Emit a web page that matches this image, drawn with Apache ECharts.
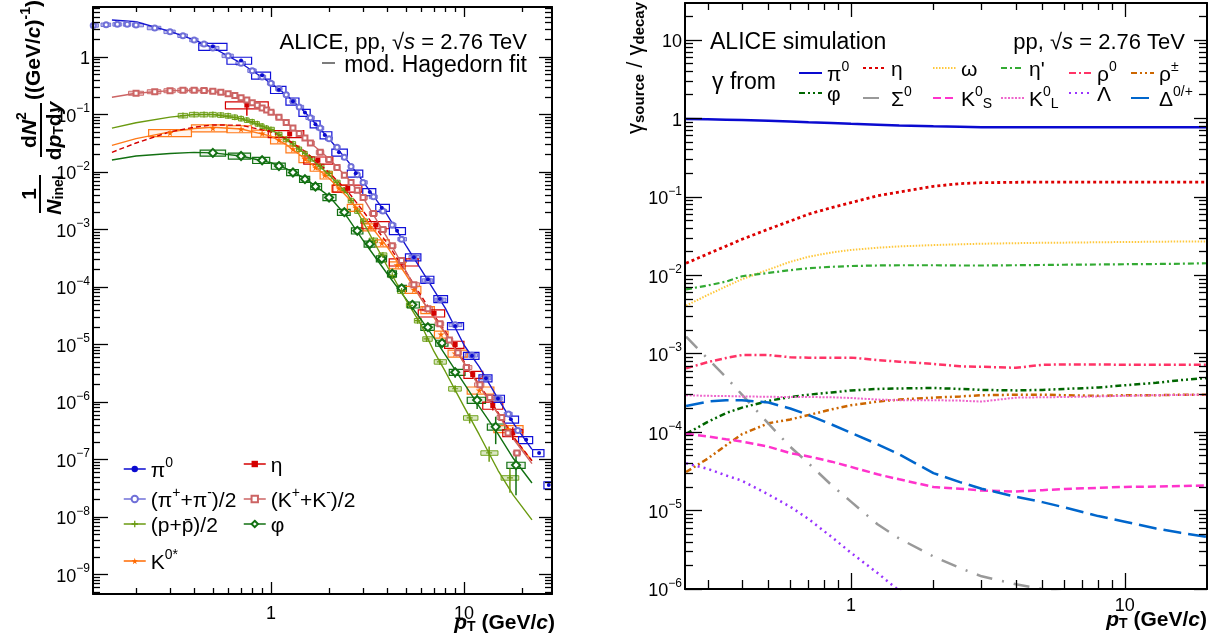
<!DOCTYPE html>
<html>
<head>
<meta charset="utf-8">
<script src="https://cdn.jsdelivr.net/npm/echarts@6/dist/echarts.min.js"></script>
<style>
html, body { margin: 0; background: #fff; }
#chart { width: 1222px; height: 639px; }
</style>
</head>
<body>
<div id="chart"></div>
<script>
// ---------- left panel: spectra ----------
const PT_FIT  = [0.15, 0.2, 0.3, 0.4, 0.5, 0.7, 1, 1.2, 1.5, 2, 2.5, 3, 4, 5, 6, 7, 8, 10, 12, 15, 18, 22.5];
const FIT_PI  = [4.4, 4.1, 2.8, 1.98, 1.45, 0.78, 0.35, 0.22, 0.11, 0.038, 0.0155, 0.0068, 0.0018, 5.3e-4, 2.0e-4, 8.7e-5, 4.3e-5, 9.8e-6, 4.1e-6, 1.15e-6, 4.3e-7, 1.5e-7];
const FIT_K   = [0.2, 0.235, 0.26, 0.265, 0.255, 0.19, 0.11, 0.073, 0.039, 0.017, 0.0078, 0.0036, 7.2e-4, 1.9e-4, 6.2e-5, 3.0e-5, 1.6e-5, 4.8e-6, 1.9e-6, 6.2e-7, 2.3e-7, 8.5e-8];
const FIT_P   = [0.058, 0.072, 0.09, 0.1, 0.1, 0.085, 0.055, 0.037, 0.021, 0.009, 0.0041, 0.00135, 2.3e-4, 6.0e-5, 2.2e-5, 7.5e-6, 3.4e-6, 8.3e-7, 2.7e-7, 6.5e-8, 2.4e-8, 8.9e-9];
const FIT_ETA = [0.022, 0.032, 0.05, 0.06, 0.066, 0.065, 0.05, 0.038, 0.023, 0.0098, 0.0046, 0.0021, 5.8e-4, 1.85e-4, 7.0e-5, 3.2e-5, 1.7e-5, 5.1e-6, 2.0e-6, 6.6e-7, 2.5e-7, 9.5e-8];
const FIT_KST = [0.029, 0.038, 0.05, 0.057, 0.06, 0.056, 0.042, 0.03, 0.017, 0.0078, 0.0036, 0.0017, 5.0e-4, 1.65e-4, 6.2e-5, 2.9e-5, 1.55e-5, 4.8e-6, 1.9e-6, 6.3e-7, 2.4e-7, 9.5e-8];
const FIT_PHI = [0.0162, 0.019, 0.021, 0.022, 0.0215, 0.019, 0.0145, 0.0115, 0.0078, 0.0038, 0.0016, 6.5e-4, 1.7e-4, 6.2e-5, 2.7e-5, 1.3e-5, 6.6e-6, 2.1e-6, 8.3e-7, 2.8e-7, 1.05e-7, 3.9e-8];

const PI0_PT = [0.5, 0.7, 0.9, 1.1, 1.3, 1.5, 1.7, 1.9, 2.25, 2.75, 3.25, 3.75, 4.5, 5.5, 6.5, 7.5, 9, 11, 13, 15, 17.5, 21, 24.5, 27.5];
const PI0_Y  = [1.52, 0.87, 0.48, 0.27, 0.17, 0.108, 0.068, 0.044, 0.022, 0.0095, 0.0045, 0.0024, 9.5e-4, 3.3e-4, 1.35e-4, 6.2e-5, 2.1e-5, 6.4e-6, 2.6e-6, 1.15e-6, 5.0e-7, 2.2e-7, 1.3e-7, 3.6e-8];

const PICH_PT = [0.12, 0.14, 0.16, 0.18, 0.2, 0.25, 0.3, 0.35, 0.4, 0.45, 0.5, 0.6, 0.7, 0.8, 0.9, 1.0, 1.1, 1.2, 1.3, 1.4, 1.6, 1.8, 2.0, 2.2, 2.4, 2.6, 2.8, 3.0, 3.4, 3.8, 4.25, 4.75, 5.5, 6.5, 7.5, 9, 11, 13, 15, 17, 19];
const PICH_Y  = [3.55, 3.65, 3.7, 3.7, 3.6, 3.2, 2.75, 2.35, 1.98, 1.68, 1.43, 1.05, 0.78, 0.58, 0.45, 0.35, 0.28, 0.22, 0.17, 0.135, 0.088, 0.058, 0.038, 0.027, 0.018, 0.0125, 0.009, 0.0066, 0.0037, 0.0021, 0.0012, 6.8e-4, 3.3e-4, 1.3e-4, 6.0e-5, 2.2e-5, 6.5e-6, 2.6e-6, 1.15e-6, 6.2e-7, 3.2e-7];

const PR_PT  = [0.35, 0.4, 0.45, 0.5, 0.55, 0.6, 0.65, 0.7, 0.75, 0.8, 0.85, 0.9, 0.95, 1.0, 1.1, 1.2, 1.3, 1.4, 1.5, 1.6, 1.8, 2.0, 2.2, 2.4, 2.6, 2.8, 3.0, 3.4, 3.8, 4.25, 4.75, 5.25, 5.75, 6.4, 7.5, 9, 10.7, 13.5, 17.3];
const PR_Y   = [0.096, 0.1, 0.1, 0.1, 0.098, 0.095, 0.09, 0.085, 0.08, 0.075, 0.069, 0.063, 0.058, 0.055, 0.045, 0.037, 0.031, 0.025, 0.021, 0.017, 0.0125, 0.0095, 0.0066, 0.0048, 0.0032, 0.0021, 0.0014, 6.5e-4, 3.6e-4, 1.6e-4, 8.5e-5, 4.8e-5, 2.6e-5, 1.25e-5, 5.0e-6, 1.7e-6, 5.3e-7, 1.3e-7, 4.8e-8];
const PR_ERR = [0.01, 0.01, 0.01, 0.01, 0.01, 0.01, 0.01, 0.01, 0.01, 0.01, 0.01, 0.01, 0.01, 0.01, 0.01, 0.01, 0.01, 0.01, 0.01, 0.01, 0.01, 0.01, 0.01, 0.01, 0.01, 0.02, 0.02, 0.02, 0.03, 0.03, 0.04, 0.05, 0.06, 0.08, 0.1, 0.14, 0.2, 0.3, 0.45];

const KCH_PT = [0.2, 0.25, 0.3, 0.35, 0.4, 0.45, 0.5, 0.55, 0.6, 0.65, 0.7, 0.75, 0.8, 0.85, 0.9, 0.95, 1.0, 1.1, 1.2, 1.3, 1.4, 1.5, 1.6, 1.8, 2.0, 2.2, 2.4, 2.6, 2.8, 3.0, 3.4, 3.8, 4.25, 4.75, 5.5, 6.5, 7.5, 8.4, 9.3, 10.3, 12.1, 13.6, 15.7, 16.9, 18.8];
const KCH_Y  = [0.235, 0.25, 0.26, 0.265, 0.265, 0.262, 0.255, 0.245, 0.23, 0.215, 0.195, 0.178, 0.16, 0.145, 0.13, 0.12, 0.11, 0.09, 0.073, 0.058, 0.047, 0.039, 0.032, 0.022, 0.0165, 0.012, 0.0088, 0.0066, 0.0048, 0.0036, 0.0019, 0.001, 5.2e-4, 2.9e-4, 1.1e-4, 4.2e-5, 2.3e-5, 1.2e-5, 7.2e-6, 4.0e-6, 2.0e-6, 1.2e-6, 5.4e-7, 2.9e-7, 1.3e-7];

const ETA_PT  = [0.75, 1.25, 1.75, 2.5, 3.5, 4.8, 7, 9, 11.1, 14.1, 17.9];
const ETA_Y   = [0.146, 0.046, 0.016, 0.0052, 0.0012, 2.7e-4, 3.5e-5, 1.0e-5, 3.0e-6, 8.7e-7, 2.9e-7];
const ETA_ERR = [0.35, 0.1, 0.08, 0.06, 0.06, 0.06, 0.08, 0.1, 0.12, 0.18, 0.25];

const PHI_PT  = [0.5, 0.7, 0.9, 1.1, 1.3, 1.5, 1.7, 2.0, 2.4, 2.8, 3.25, 3.75, 4.25, 4.75, 5.4, 6.5, 7.7, 9, 11.7, 14.6, 18.6];
const PHI_Y   = [0.0215, 0.019, 0.016, 0.0127, 0.0098, 0.0075, 0.0056, 0.0036, 0.002, 9.5e-4, 5.6e-4, 3.1e-4, 1.7e-4, 9.5e-5, 4.9e-5, 2.0e-5, 1.06e-5, 3.3e-6, 1.08e-6, 3.7e-7, 8.0e-8];
const PHI_ERR = [0.03, 0.03, 0.03, 0.03, 0.03, 0.03, 0.04, 0.04, 0.05, 0.05, 0.06, 0.06, 0.07, 0.08, 0.1, 0.12, 0.15, 0.2, 0.3, 0.5, 0.7];

const KST_PT = [0.3, 0.5, 0.7, 0.9, 1.1, 1.3, 1.5, 1.7, 1.9, 2.25, 2.75, 3.25, 3.75, 4.5, 5.5, 6.5, 7.6, 9, 12, 17];
const KST_Y  = [0.048, 0.058, 0.056, 0.047, 0.036, 0.025, 0.017, 0.012, 0.0088, 0.0052, 0.0024, 0.0011, 5.8e-4, 2.4e-4, 9.0e-5, 4.0e-5, 1.5e-5, 7.0e-6, 1.6e-6, 3.4e-7];

// ---------- right panel: gamma_source / gamma_decay ----------
const R_PT     = [0.25, 0.3, 0.35, 0.4, 0.5, 0.6, 0.7, 0.85, 1, 1.25, 1.5, 2, 2.5, 3, 4, 5, 6, 8, 10, 13, 16, 20];
const R_PI0    = [0.98, 0.97, 0.96, 0.95, 0.93, 0.91, 0.89, 0.87, 0.85, 0.83, 0.81, 0.79, 0.78, 0.77, 0.77, 0.77, 0.77, 0.77, 0.77, 0.77, 0.77, 0.77];
const R_ETA    = [0.0142, 0.0187, 0.0235, 0.0287, 0.0387, 0.049, 0.06, 0.0728, 0.0843, 0.103, 0.115, 0.136, 0.147, 0.151, 0.153, 0.154, 0.154, 0.154, 0.154, 0.154, 0.154, 0.154];
const R_OMEGA  = [0.0041, 0.0056, 0.0072, 0.0089, 0.0118, 0.0148, 0.0172, 0.0195, 0.021, 0.0224, 0.0233, 0.0242, 0.0248, 0.0252, 0.0256, 0.0259, 0.026, 0.0263, 0.0265, 0.0267, 0.0269, 0.027];
const R_ETAP   = [0.0066, 0.0074, 0.0083, 0.0097, 0.0107, 0.0116, 0.0123, 0.0128, 0.0131, 0.0133, 0.0134, 0.0134, 0.0133, 0.0133, 0.0134, 0.0135, 0.0136, 0.0137, 0.0138, 0.0139, 0.014, 0.0142];
const R_RHO0   = [6.5e-4, 7.8e-4, 8.8e-4, 9.6e-4, 9.6e-4, 9.0e-4, 8.9e-4, 8.9e-4, 8.9e-4, 8.3e-4, 7.9e-4, 7.4e-4, 6.9e-4, 6.8e-4, 6.6e-4, 7.2e-4, 7.3e-4, 7.3e-4, 7.2e-4, 7.2e-4, 7.2e-4, 7.2e-4];
const R_RHOPM  = [3.1e-5, 4.6e-5, 6.8e-5, 9.4e-5, 1.3e-4, 1.45e-4, 1.65e-4, 1.95e-4, 2.2e-4, 2.45e-4, 2.6e-4, 2.75e-4, 2.85e-4, 2.95e-4, 3.0e-4, 3.0e-4, 2.95e-4, 2.9e-4, 2.95e-4, 2.95e-4, 3.0e-4, 3.0e-4];
const R_PHI    = [9.5e-5, 1.35e-4, 1.75e-4, 2.05e-4, 2.5e-4, 2.8e-4, 3.0e-4, 3.2e-4, 3.4e-4, 3.55e-4, 3.6e-4, 3.65e-4, 3.55e-4, 3.45e-4, 3.4e-4, 3.45e-4, 3.55e-4, 3.7e-4, 3.95e-4, 4.25e-4, 4.6e-4, 4.9e-4];
const R_SIGMA  = [1.65e-3, 8.6e-4, 5.0e-4, 3.0e-4, 1.28e-4, 6.5e-5, 4.0e-5, 2.1e-5, 1.3e-5, 6.7e-6, 4.4e-6, 2.6e-6, 1.85e-6, 1.45e-6, 1.15e-6, 1.0e-6, 0.9e-6, 0.8e-6, 0.7e-6, 0.6e-6, 0.55e-6, 0.5e-6];
const R_K0S    = [9.5e-5, 8.8e-5, 8.1e-5, 7.6e-5, 6.5e-5, 5.4e-5, 4.9e-5, 4.2e-5, 3.6e-5, 2.9e-5, 2.5e-5, 2.0e-5, 1.9e-5, 1.8e-5, 1.75e-5, 1.82e-5, 1.88e-5, 1.95e-5, 2.0e-5, 2.02e-5, 2.05e-5, 2.1e-5];
const R_K0L    = [2.95e-4, 2.9e-4, 2.88e-4, 2.85e-4, 2.82e-4, 2.8e-4, 2.8e-4, 2.78e-4, 2.72e-4, 2.6e-4, 2.55e-4, 2.55e-4, 2.52e-4, 2.45e-4, 2.75e-4, 2.78e-4, 2.8e-4, 2.85e-4, 2.9e-4, 2.95e-4, 2.98e-4, 3.0e-4];
const R_LAMBDA = [4.0e-5, 3.4e-5, 2.8e-5, 2.4e-5, 1.6e-5, 1.12e-5, 7.8e-6, 4.6e-6, 2.9e-6, 1.6e-6, 9.5e-7, 4.5e-7, 2.5e-7, 1.5e-7, 7e-8, 4e-8, 3e-8, 2e-8, 1e-8, 8e-9, 6e-9, 5e-9];
const R_DELTA  = [2.15e-4, 2.45e-4, 2.55e-4, 2.55e-4, 2.38e-4, 2.0e-4, 1.65e-4, 1.25e-4, 9.8e-5, 7.0e-5, 5.2e-5, 3.0e-5, 2.3e-5, 1.9e-5, 1.5e-5, 1.28e-5, 1.1e-5, 8.5e-6, 7.2e-6, 5.9e-6, 5.2e-6, 4.6e-6];

const FONT = 'Liberation Sans';
const L = Math.log10;

function richSet(size, weight) {
    let sup = Math.round(size * 0.66);
    return {
        n:   {fontSize: size, fontFamily: FONT, fontWeight: weight, color: '#000', lineHeight: size + 5, verticalAlign: 'bottom'},
        i:   {fontSize: size, fontFamily: FONT, fontWeight: weight, fontStyle: 'italic', color: '#000', lineHeight: size + 5, verticalAlign: 'bottom'},
        sup: {fontSize: sup, fontFamily: FONT, fontWeight: weight, color: '#000', lineHeight: sup, verticalAlign: 'top'},
        sub: {fontSize: sup, fontFamily: FONT, fontWeight: weight, color: '#000', lineHeight: sup, verticalAlign: 'bottom'}
    };
}
const RICH = richSet(21, 'normal');
const RICH_AX = richSet(18, 'normal');
const RICH_22 = richSet(22, 'normal');
const RICH_23 = richSet(23, 'normal');
const RICH_BOLD = richSet(21, 'bold');

const NAMES = {
    'π0': '{n|π}{sup|0}',
    '(π++π-)/2': '{n|(π}{sup|+}{n|+π}{sup|-}{n|)/2}',
    '(p+p̄)/2': '{n|(p+p̄)/2}',
    'K0*': '{n|K}{sup|0*}',
    'η': '{n|η}',
    '(K++K-)/2': '{n|(K}{sup|+}{n|+K}{sup|-}{n|)/2}',
    'φ': '{n|φ}',
    'r_pi0': '{n|π}{sup|0}',
    'r_eta': '{n|η}',
    'r_omega': '{n|ω}',
    'r_etap': "{n|η'}",
    'r_rho0': '{n|ρ}{sup|0}',
    'r_rhopm': '{n|ρ}{sup|±}',
    'r_phi': '{n|φ}',
    'r_sigma': '{n|Σ}{sup|0}',
    'r_k0s': '{n|K}{sup|0}{sub|S}',
    'r_k0l': '{n|K}{sup|0}{sub|L}',
    'r_lambda': '{n|Λ}',
    'r_delta': '{n|Δ}{sup|0/+}'
};

// axis helpers (log10 space)
function decades(r) {
    let out = [];
    for (let n = Math.ceil(r[0]); n <= Math.floor(r[1]); n++) out.push(n);
    return out;
}
function minors(r) {
    let out = [];
    for (let n = Math.floor(r[0]); n <= Math.ceil(r[1]); n++) {
        for (let k = 2; k <= 9; k++) {
            let v = n + L(k);
            if (v > r[0] && v < r[1]) out.push(v);
        }
    }
    return out;
}
function powLabel(v) {
    let n = Math.round(v);
    if (n === 0) return '{n|1}';
    if (n === 1) return '{n|10}';
    return '{n|10}{sup|' + (n < 0 ? '−' : '') + Math.abs(n) + '}';
}
function axis(grid, pos, r, major, len, label, margin) {
    return {
        type: 'value', gridIndex: grid, position: pos, min: r[0], max: r[1],
        splitLine: {show: false},
        axisLine: {show: major, onZero: false, lineStyle: {color: '#000', width: 2}},
        axisTick: {show: true, inside: true, length: len,
                   customValues: major ? decades(r) : minors(r),
                   lineStyle: {color: '#000', width: 1.3}},
        axisLabel: {show: label, customValues: decades(r), formatter: powLabel,
                    margin: margin, rich: RICH_AX},
        z: 10
    };
}

const LX = [-0.922, 1.456], LY = [-9.339, 0.870];
const RX = [-0.606, 1.300], RY = [-6.0, 1.47];

const xAxes = [
    axis(0, 'bottom', LX, true, 12, true, 6),
    axis(0, 'bottom', LX, false, 6, false, 0),
    axis(0, 'top', LX, true, 10, false, 0),
    axis(0, 'top', LX, false, 5, false, 0),
    axis(1, 'bottom', RX, true, 16, true, 3),
    axis(1, 'bottom', RX, false, 9, false, 0),
    axis(1, 'top', RX, true, 14, false, 0),
    axis(1, 'top', RX, false, 7, false, 0)
];
const yAxes = [
    axis(0, 'left', LY, true, 15, true, 3),
    axis(0, 'left', LY, false, 7, false, 0),
    axis(0, 'right', LY, true, 13, false, 0),
    axis(0, 'right', LY, false, 7, false, 0),
    axis(1, 'left', RY, true, 17, true, 3),
    axis(1, 'left', RY, false, 8, false, 0),
    axis(1, 'right', RY, true, 13, false, 0),
    axis(1, 'right', RY, false, 8, false, 0)
];

function pairs(xs, ys) {
    return xs.map((x, i) => [L(x), L(ys[i])]);
}
function boxRows(xs, ys, sys, frac) {
    let n = xs.length;
    return xs.map((x, i) => {
        let c = L(x);
        let lo = i > 0 ? (L(xs[i - 1]) + c) / 2 : c - (L(xs[1]) - c) / 2;
        let hi = i < n - 1 ? (L(xs[i + 1]) + c) / 2 : c + (c - L(xs[n - 2])) / 2;
        return [c - (c - lo) * frac, c + (hi - c) * frac, L(ys[i] * (1 - sys)), L(ys[i] * (1 + sys))];
    });
}

const series = [];

function addBoxes(xs, ys, sys, frac, style) {
    series.push({
        type: 'custom', xAxisIndex: 0, yAxisIndex: 0, clip: true, silent: true, z: 2,
        data: boxRows(xs, ys, sys, frac),
        encode: {x: [0, 1], y: [2, 3]},
        renderItem: function (params, api) {
            let p1 = api.coord([api.value(0), api.value(3)]);
            let p2 = api.coord([api.value(1), api.value(2)]);
            return {type: 'rect',
                    shape: {x: p1[0], y: p1[1], width: p2[0] - p1[0], height: p2[1] - p1[1]},
                    style: style};
        }
    });
}
function addErrors(xs, ys, errs, color) {
    series.push({
        type: 'custom', xAxisIndex: 0, yAxisIndex: 0, clip: true, silent: true, z: 4,
        data: xs.map((x, i) => [L(x), L(ys[i] * Math.max(1 - errs[i], 0.05)), L(ys[i] * (1 + errs[i]))]),
        encode: {x: 0, y: [1, 2]},
        renderItem: function (params, api) {
            let p1 = api.coord([api.value(0), api.value(1)]);
            let p2 = api.coord([api.value(0), api.value(2)]);
            return {type: 'line', shape: {x1: p1[0], y1: p1[1], x2: p2[0], y2: p2[1]},
                    style: {stroke: color, lineWidth: 1.5}};
        }
    });
}
function addFit(ys, color, dash) {
    series.push({
        type: 'line', xAxisIndex: 0, yAxisIndex: 0, showSymbol: false, silent: true, z: 3,
        data: pairs(PT_FIT, ys),
        lineStyle: {color: color, width: 1.4, type: dash || 'solid'}
    });
}
function addPoints(name, xs, ys, color, symbol, size) {
    series.push({
        name: name, type: 'line', xAxisIndex: 0, yAxisIndex: 0, z: 5,
        data: pairs(xs, ys), showSymbol: true, symbol: symbol, symbolSize: size,
        itemStyle: {color: color}, lineStyle: {color: color, opacity: 0, width: 1.5}
    });
}

const STAR = 'path://M50,0 L61,35 98,35 68,57 79,91 50,70 21,91 32,57 2,35 39,35Z';
const CROSS = 'path://M4,0h2v4h4v2h-4v4h-2v-4h-4v-2h4z';

// boxes
addBoxes(PICH_PT, PICH_Y, 0.07, 0.8, {fill: 'rgba(110,110,215,0.45)', stroke: 'rgba(90,90,210,0.8)', lineWidth: 1});
addBoxes(KCH_PT, KCH_Y, 0.08, 0.8, {fill: 'rgba(205,100,100,0.35)', stroke: 'rgba(200,90,90,0.85)', lineWidth: 1});
addBoxes(PR_PT, PR_Y, 0.09, 0.85, {fill: 'rgba(110,160,20,0.25)', stroke: 'rgba(100,155,10,0.9)', lineWidth: 1});
addBoxes(PHI_PT, PHI_Y, 0.12, 0.9, {fill: 'rgba(20,120,20,0.08)', stroke: '#127012', lineWidth: 1.2});
addBoxes(KST_PT, KST_Y, 0.14, 1.0, {fill: 'rgba(255,120,30,0.08)', stroke: '#ff7a1a', lineWidth: 1.2});
addBoxes(ETA_PT, ETA_Y, 0.14, 1.0, {fill: 'none', stroke: '#d40000', lineWidth: 1.2});
addBoxes(PI0_PT, PI0_Y, 0.14, 1.0, {fill: 'none', stroke: '#1010d8', lineWidth: 1.2});

// fits
addFit(FIT_PHI, '#127012');
addFit(FIT_P, '#6a9a10');
addFit(FIT_KST, '#ff7a1a');
addFit(FIT_ETA, '#d40000', [5, 3]);
addFit(FIT_K, '#cc6464');
addFit(FIT_PI, '#1818d0');

// statistical error bars
addErrors(PR_PT, PR_Y, PR_ERR, '#6a9a10');
addErrors(PHI_PT, PHI_Y, PHI_ERR, '#127012');
addErrors(ETA_PT, ETA_Y, ETA_ERR, '#d40000');

// points
addPoints('φ', PHI_PT, PHI_Y, '#127012', 'emptyDiamond', 8);
addPoints('(p+p̄)/2', PR_PT, PR_Y, '#6a9a10', CROSS, 6);
addPoints('K0*', KST_PT, KST_Y, '#ff6a00', STAR, 7);
addPoints('η', ETA_PT, ETA_Y, '#d40000', 'rect', 5);
addPoints('(K++K-)/2', KCH_PT, KCH_Y, '#cc6464', 'emptyRect', 5);
addPoints('(π++π-)/2', PICH_PT, PICH_Y, '#7070d8', 'emptyCircle', 5);
addPoints('π0', PI0_PT, PI0_Y, '#0a0ad0', 'circle', 4);

// right panel curves
const R_LINES = [
    ['r_pi0', R_PI0, '#0a0ad0', 'solid', 2.5],
    ['r_eta', R_ETA, '#dd0000', [3, 3], 2.8],
    ['r_omega', R_OMEGA, '#ffc83c', [1.5, 1.5], 2],
    ['r_etap', R_ETAP, '#33aa33', [6, 3, 2, 3], 2.2],
    ['r_rho0', R_RHO0, '#ff3366', [7, 3, 2, 3], 2.5],
    ['r_rhopm', R_RHOPM, '#cc6600', [6, 3, 2, 3, 2, 3], 2.5],
    ['r_phi', R_PHI, '#006600', [6, 3, 2, 3, 2, 3], 2.5],
    ['r_sigma', R_SIGMA, '#999999', [16, 10, 2, 10], 2.5],
    ['r_k0s', R_K0S, '#ff33cc', [8, 4], 2.5],
    ['r_k0l', R_K0L, '#ee66cc', [2, 1.5], 2],
    ['r_lambda', R_LAMBDA, '#9933ff', [2, 4], 2.5],
    ['r_delta', R_DELTA, '#0066cc', [18, 7], 2.5]
];
R_LINES.forEach(function (d) {
    series.push({
        name: d[0], type: 'line', xAxisIndex: 4, yAxisIndex: 4, showSymbol: false, symbol: 'none',
        clip: true, silent: true, z: 3,
        data: pairs(R_PT, d[1]),
        lineStyle: {color: d[2], type: d[3], width: d[4]},
        itemStyle: {color: d[2]}
    });
});

// legends: one per entry so the columns line up like the original
function leg(name, x, yc, w, withMarker) {
    let item = {name: name};
    if (withMarker) item.lineStyle = {opacity: 1, width: 1.5};
    else item.itemStyle = {opacity: 0};
    return {
        left: x, top: yc - 13, padding: 0, selectedMode: false, orient: 'horizontal',
        itemWidth: w, itemHeight: 8, itemGap: 0, data: [item],
        formatter: function (n) { return NAMES[n]; },
        textStyle: {color: '#000', fontSize: 21, fontFamily: FONT, rich: RICH}
    };
}
const legends = [
    leg('π0', 123, 469, 22, true),
    leg('(π++π-)/2', 123, 499, 22, true),
    leg('(p+p̄)/2', 123, 529, 22, true),
    leg('K0*', 123, 561, 22, true),
    leg('η', 243, 469, 22, true),
    leg('(K++K-)/2', 243, 499, 22, true),
    leg('φ', 243, 529, 22, true)
];
const R_COLS = [798, 862, 932, 1000, 1068, 1130];
const R_ROW1 = ['r_pi0', 'r_eta', 'r_omega', 'r_etap', 'r_rho0', 'r_rhopm'];
const R_ROW2 = ['r_phi', 'r_sigma', 'r_k0s', 'r_k0l', 'r_lambda', 'r_delta'];
R_ROW1.forEach((n, i) => legends.push(leg(n, R_COLS[i], 73, 23, false)));
R_ROW2.forEach((n, i) => legends.push(leg(n, R_COLS[i], 98, 23, false)));

// text annotations
function txt(x, y, text, rich, align, extra) {
    return Object.assign({
        type: 'text', x: x, y: y, z: 100, silent: true,
        style: {text: text, rich: rich, align: align, verticalAlign: 'middle',
                textAlign: align, textVerticalAlign: 'middle', fill: '#000',
                font: '21px ' + FONT}
    }, extra || {});
}
const graphic = [
    txt(527, 40, '{n|ALICE, pp, √}{i|s}{n| = 2.76 TeV}', RICH_22, 'right'),
    {type: 'line', z: 100, shape: {x1: 322, y1: 63, x2: 335, y2: 63}, style: {stroke: '#444', lineWidth: 1.4}},
    txt(527, 63, '{n|mod. Hagedorn fit}', RICH_23, 'right'),
    txt(710, 40, '{n|ALICE simulation}', RICH_23, 'left'),
    txt(1185, 40, '{n|pp, √}{i|s}{n| = 2.76 TeV}', RICH_22, 'right'),
    txt(712, 80, '{n|γ from}', RICH_23, 'left'),
    txt(555, 621, '{i|p}{sub|T}{n| (GeV/}{i|c}{n|)}', RICH_BOLD, 'right'),
    txt(1207, 618, '{i|p}{sub|T}{n| (GeV/}{i|c}{n|)}', RICH_BOLD, 'right'),
    // left y title, rotated to read bottom-to-top
    {type: 'group', x: 40, y: 600, rotation: Math.PI / 2, z: 100, children: [
        txt(406, -12, '{n|1}', RICH_BOLD, 'center'),
        {type: 'line', shape: {x1: 387, y1: 0, x2: 425, y2: 0}, style: {stroke: '#000', lineWidth: 2}},
        txt(405, 13, '{i|N}{sub|inel}', RICH_BOLD, 'center'),
        txt(470, -12, '{n|d}{i|N}{sup|2}', RICH_BOLD, 'center'),
        {type: 'line', shape: {x1: 443, y1: 1, x2: 497, y2: 1}, style: {stroke: '#000', lineWidth: 2}},
        txt(469, 13, '{n|d}{i|p}{sub|T}{n|d}{i|y}', RICH_BOLD, 'center'),
        txt(550, -8, '{n|((GeV/}{i|c}{n|)}{sup|-1}{n|)}', RICH_BOLD, 'center')
    ]},
    // right y title
    txt(634, 68, '{g|γ}{sub|source}{g| / γ}{sub|decay}',
        {g: {fontSize: 22, fontFamily: FONT, color: '#000', lineHeight: 26, verticalAlign: 'bottom'},
         sub: {fontSize: 15, fontFamily: FONT, fontWeight: 'bold', color: '#000', lineHeight: 14, verticalAlign: 'bottom'}},
        'center', {rotation: Math.PI / 2})
];

let chart = echarts.init(document.getElementById('chart'), null, {renderer: 'canvas'});
chart.setOption({
    animation: false,
    backgroundColor: '#fff',
    grid: [
        {left: 93, top: 7, width: 459, height: 587, containLabel: false, outerBoundsMode: 'none'},
        {left: 685, top: 3, width: 522, height: 586, containLabel: false, outerBoundsMode: 'none'}
    ],
    xAxis: xAxes,
    yAxis: yAxes,
    legend: legends,
    series: series,
    graphic: graphic
});
</script>
</body>
</html>
